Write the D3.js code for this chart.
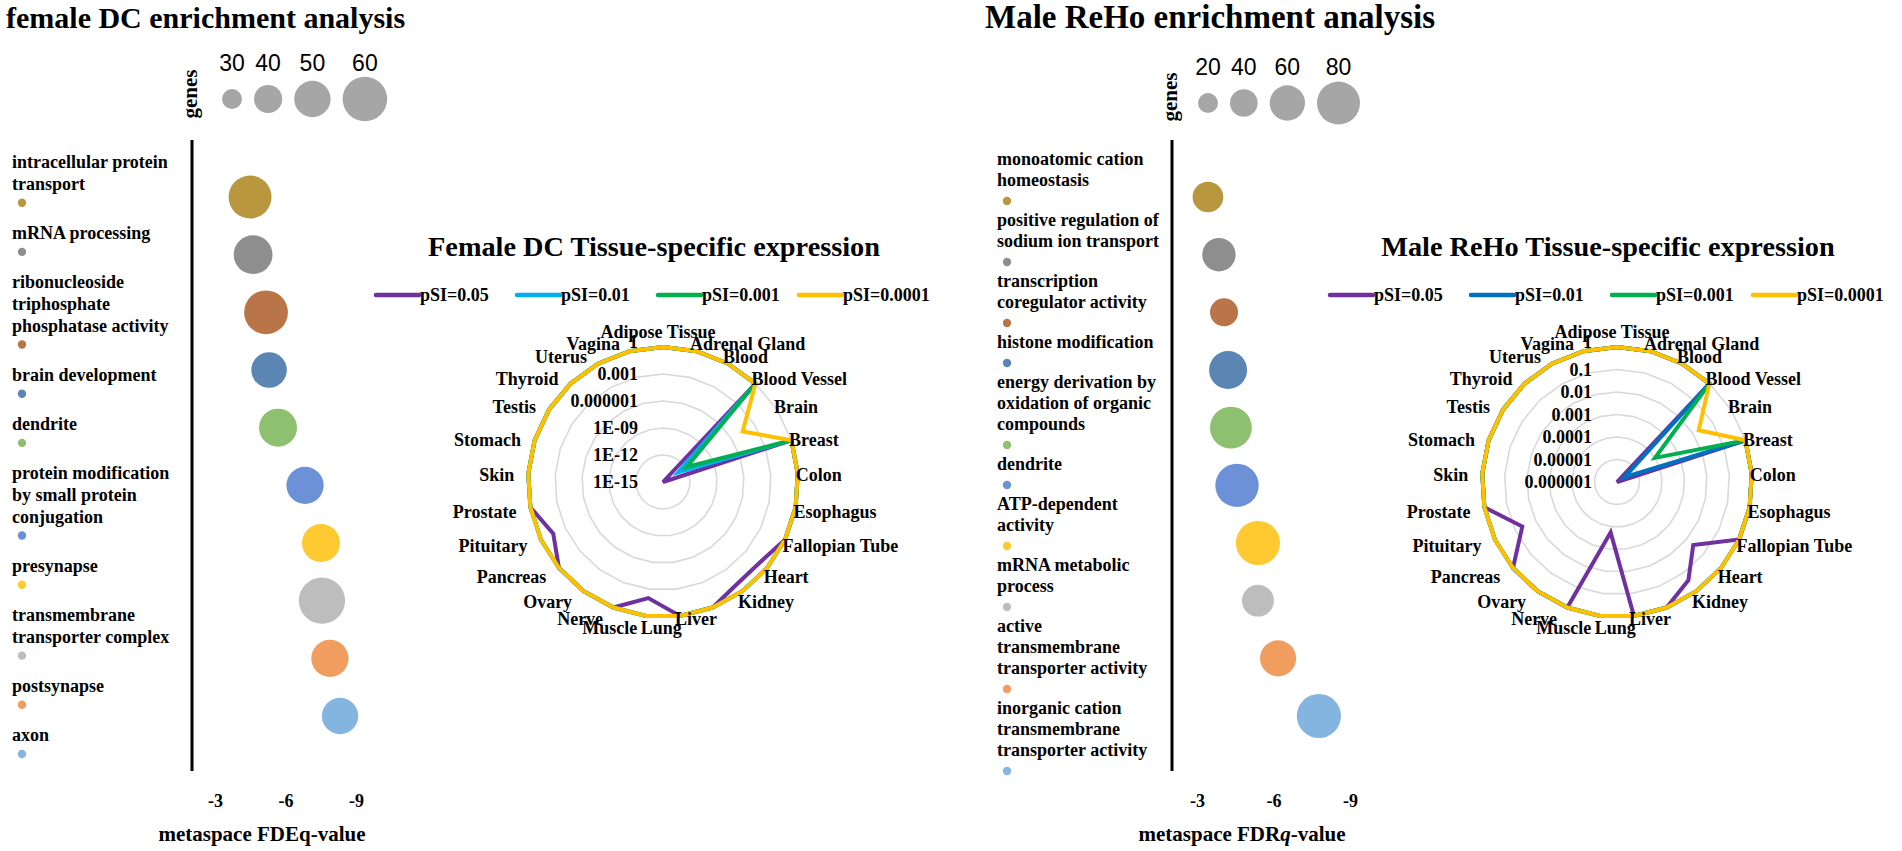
<!DOCTYPE html>
<html><head><meta charset="utf-8">
<script src="https://cdn.jsdelivr.net/npm/d3@7/dist/d3.min.js"></script>
<style>body{margin:0;background:#fff}svg{display:block}</style>
</head><body><svg id="c" width="1902" height="851"></svg>
<script>
// ---------------- DATA ----------------
const femaleTermLines = [
  ["intracellular protein","transport"],
  ["mRNA processing"],
  ["ribonucleoside","triphosphate","phosphatase activity"],
  ["brain development"],
  ["dendrite"],
  ["protein modification","by small protein","conjugation"],
  ["presynapse"],
  ["transmembrane","transporter complex"],
  ["postsynapse"],
  ["axon"]
];
const femaleLogQ  = [-4.47, -4.6, -5.15, -5.28, -5.66, -6.81, -7.49, -7.53, -7.87, -8.3];
const femaleGenes = [58, 53, 59, 49, 52, 51, 52, 62, 51, 50];
const femaleGeneLegend = [30, 40, 50, 60];

const maleTermLines = [
  ["monoatomic cation","homeostasis"],
  ["positive regulation of","sodium ion transport"],
  ["transcription","coregulator activity"],
  ["histone modification"],
  ["energy derivation by","oxidation of organic","compounds"],
  ["dendrite"],
  ["ATP-dependent","activity"],
  ["mRNA metabolic","process"],
  ["active","transmembrane","transporter activity"],
  ["inorganic cation","transmembrane","transporter activity"]
];
const maleLogQ  = [-3.41, -3.84, -4.04, -4.2, -4.31, -4.55, -5.37, -5.37, -6.16, -7.76];
const maleGenes = [48, 55, 41, 67, 77, 81, 83, 51, 62, 83];
const maleGeneLegend = [20, 40, 60, 80];

const termColors = ["#B8973F","#8E8E8E","#B97548","#5B86B4","#8EC16F","#6C91D6","#FFC932","#BDBDBD","#F19D60","#84B5E1"];
const xTickValues = [-3, -6, -9];

const tissues = ["Adipose Tissue","Adrenal Gland","Blood","Blood Vessel","Brain","Breast","Colon","Esophagus",
  "Fallopian Tube","Heart","Kidney","Liver","Lung","Muscle","Nerve","Ovary","Pancreas","Pituitary",
  "Prostate","Skin","Stomach","Testis","Thyroid","Uterus","Vagina"];
const pSILabels = ["pSI=0.05","pSI=0.01","pSI=0.001","pSI=0.0001"];

const femaleRadarTicks = [1, 1e-3, 1e-6, 1e-9, 1e-12, 1e-15];
const femaleRadarTickLabels = ["1","0.001","0.000001","1E-09","1E-12","1E-15"];
const female_pSI_005   = [1,1,1,1,1e-15,1,1,1,1,0.1,0.1,1,1,0.01,1,1,1,0.03,1,1,1,1,1,1,1];
const female_pSI_001   = [1,1,1,1,1e-13,1,1,1,1,1,1,1,1,1,1,1,1,1,1,1,1,1,1,1,1];
const female_pSI_0001  = [1,1,1,1,1.3e-12,1,1,1,1,1,1,1,1,1,1,1,1,1,1,1,1,1,1,1,1];
const female_pSI_00001 = [1,1,1,1,3e-5,1,1,1,1,1,1,1,1,1,1,1,1,1,1,1,1,1,1,1,1];

const maleRadarTicks = [1, 0.1, 0.01, 0.001, 0.0001, 0.00001, 0.000001];
const maleRadarTickLabels = ["1","0.1","0.01","0.001","0.0001","0.00001","0.000001"];
const male_pSI_005   = [1,1,1,1,1e-6,1,1,1,1,0.025,0.25,1,1,1.8e-4,1,1,1,0.045,1,1,1,1,1,1,1];
const male_pSI_001   = [1,1,1,1,2.5e-6,1,1,1,1,1,1,1,1,1,1,1,1,1,1,1,1,1,1,1,1];
const male_pSI_0001  = [1,1,1,1,1e-4,1,1,1,1,1,1,1,1,1,1,1,1,1,1,1,1,1,1,1,1];
const male_pSI_00001 = [1,1,1,1,0.02,1,1,1,1,1,1,1,1,1,1,1,1,1,1,1,1,1,1,1,1];

const femaleLineColors = ["#7030A0","#00B0F0","#00B050","#FFC000"];
const maleLineColors   = ["#7030A0","#0070C0","#00B050","#FFC000"];

// ---------------- DRAW ----------------
const svg = d3.select("#c");
svg.append("rect").attr("width",1902).attr("height",851).attr("fill","#fff");
const SERIF = "'Liberation Serif','Times New Roman',serif";
const SANS = "'Liberation Sans',Arial,sans-serif";

function bubblePanel(o) {
  const g = svg.append("g");
  g.append("text").attr("x", o.titleX).attr("y", 28).text(o.title)
    .attr("font-family", SERIF).attr("font-weight","bold").attr("font-size", o.titleSize);
  const x = d3.scaleLinear().domain([-2, -10]).range([o.axisX, o.axisX + o.xWidth]);
  const terms = o.lines.map(l => l.join(" "));
  const y = d3.scalePoint().domain(terms).range([197, 716]);
  const r = d3.scaleLinear().domain(o.rDomain).range(o.rRange);

  g.append("text").attr("transform", `translate(${o.axisX + 5},${o.genesY}) rotate(-90)`)
    .attr("text-anchor","middle").text("genes")
    .attr("font-family", SERIF).attr("font-weight","bold").attr("font-size", 21);
  let cx = o.legX;
  o.legend.forEach((v, i) => {
    const rr = r(v);
    if (i > 0) cx += r(o.legend[i-1]) + rr + 12;
    g.append("circle").attr("cx", cx).attr("cy", o.legY).attr("r", rr).attr("fill", "#A6A6A6");
    g.append("text").attr("x", cx).attr("y", o.legY - 28).attr("text-anchor","middle").text(v)
      .attr("font-family", SANS).attr("font-size", 23);
  });

  g.append("line").attr("x1", o.axisX).attr("x2", o.axisX).attr("y1", 140).attr("y2", 771)
    .attr("stroke", "#000").attr("stroke-width", 3);

  g.selectAll("circle.b").data(terms).join("circle").attr("class","b")
    .attr("cx", (d,i) => x(o.logq[i])).attr("cy", d => y(d))
    .attr("r", (d,i) => r(o.genes[i])).attr("fill", (d,i) => termColors[i]);

  xTickValues.forEach(v => {
    g.append("text").attr("x", x(v)).attr("y", 807).attr("text-anchor","middle").text(v)
      .attr("font-family", SERIF).attr("font-weight","bold").attr("font-size", 18);
  });
  const t = g.append("text").attr("x", o.xTitleX).attr("y", 841).attr("text-anchor","middle")
    .attr("font-family", SERIF).attr("font-weight","bold").attr("font-size", 21);
  t.append("tspan").text(o.xTitleA);
  t.append("tspan").text("q").attr("font-style", o.qItalic ? "italic" : "normal");
  t.append("tspan").text("-value");

  let by = o.listY;
  o.lines.forEach((lines, i) => {
    lines.forEach((ln, j) => {
      g.append("text").attr("x", o.listX).attr("y", by + j * o.lh).text(ln)
        .attr("font-family", SERIF).attr("font-weight","bold").attr("font-size", 18);
    });
    const dotY = by + (lines.length - 1) * o.lh + o.dotOff;
    g.append("circle").attr("cx", o.listX + 10).attr("cy", dotY).attr("r", 4.2).attr("fill", termColors[i]);
    by = dotY + o.gap;
  });
}

bubblePanel({
  title: "female DC enrichment analysis", titleX: 6, titleSize: 30, axisX: 192, xWidth: 188,
  lines: femaleTermLines, logq: femaleLogQ, genes: femaleGenes,
  rDomain: [30, 60], rRange: [10, 22.3], legend: femaleGeneLegend, legX: 232, legY: 99, genesY: 94,
  xTitleX: 262, xTitleA: "metaspace FDE", qItalic: false,
  listX: 12, listY: 168, lh: 21.7, dotOff: 13, gap: 36.2
});
bubblePanel({
  title: "Male ReHo enrichment analysis", titleX: 985, titleSize: 33, axisX: 1172, xWidth: 204,
  lines: maleTermLines, logq: maleLogQ, genes: maleGenes,
  rDomain: [20, 80], rRange: [10, 21.5], legend: maleGeneLegend, legX: 1208, legY: 103, genesY: 97,
  xTitleX: 1242, xTitleA: "metaspace FDR", qItalic: true,
  listX: 997, listY: 165, lh: 21, dotOff: 15, gap: 25
});

function radarPanel(o) {
  const g = svg.append("g");
  const R = 135;
  const cx = o.cx, cy = 482;
  const n = tissues.length;
  const ang = i => i * 2 * Math.PI / n;
  const rs = d3.scaleLog().domain([o.ticks[o.ticks.length - 1], 1]).range([0, R]);

  g.append("text").attr("x", cx - 9).attr("y", 256).attr("text-anchor","middle").text(o.title)
    .attr("font-family", SERIF).attr("font-weight","bold").attr("font-size", 28.3);

  pSILabels.forEach((lab, i) => {
    const lx = cx - 287 + i * 141;
    g.append("line").attr("x1", lx).attr("x2", lx + 43).attr("y1", 295).attr("y2", 295)
      .attr("stroke", o.colors[i]).attr("stroke-width", 4.5).attr("stroke-linecap","round");
    g.append("text").attr("x", lx + 44).attr("y", 301).text(lab)
      .attr("font-family", SERIF).attr("font-weight","bold").attr("font-size", 18);
  });

  const chart = g.append("g").attr("transform", `translate(${cx},${cy})`);
  o.ticks.slice(0, -1).forEach(t => {
    const ring = d3.lineRadial().angle((d,i) => ang(i)).radius(() => rs(t)).curve(d3.curveLinearClosed);
    chart.append("path").attr("d", ring(tissues)).attr("fill","none")
      .attr("stroke","#D9D9D9").attr("stroke-width", 1.6);
  });
  const line = d3.lineRadial().angle((d,i) => ang(i)).radius(d => rs(d)).curve(d3.curveLinearClosed);
  o.series.forEach((s, i) => {
    chart.append("path").attr("d", line(s)).attr("fill","none")
      .attr("stroke", o.colors[i]).attr("stroke-width", 4).attr("stroke-linejoin","miter");
  });
  o.ticks.forEach((t, i) => {
    chart.append("text").attr("x", -25).attr("y", -rs(t) - (i === 0 ? 5 : 0)).attr("dy","0.35em")
      .attr("text-anchor","end").text(o.tickLabels[i])
      .attr("font-family", SERIF).attr("font-weight","bold").attr("font-size", 18);
  });
  tissues.forEach((name, i) => {
    const a = ang(i), s = Math.sin(a), c = Math.cos(a);
    let xx = (R + 6) * s - 8, yy = 8.5 - 145 * c, anchor = s > 0 ? "start" : "end";
    if (Math.abs(s) < 0.05) { xx = -5; yy = -144.5; anchor = "middle"; }
    if (c < -0.9 && s > 0) xx -= 32;
    chart.append("text").attr("x", xx).attr("y", yy).attr("text-anchor", anchor).text(name)
      .attr("font-family", SERIF).attr("font-weight","bold").attr("font-size", 18);
  });
}

radarPanel({
  cx: 663, title: "Female DC Tissue-specific expression", colors: femaleLineColors,
  ticks: femaleRadarTicks, tickLabels: femaleRadarTickLabels,
  series: [female_pSI_005, female_pSI_001, female_pSI_0001, female_pSI_00001]
});
radarPanel({
  cx: 1617, title: "Male ReHo Tissue-specific expression", colors: maleLineColors,
  ticks: maleRadarTicks, tickLabels: maleRadarTickLabels,
  series: [male_pSI_005, male_pSI_001, male_pSI_0001, male_pSI_00001]
});
</script></body></html>
